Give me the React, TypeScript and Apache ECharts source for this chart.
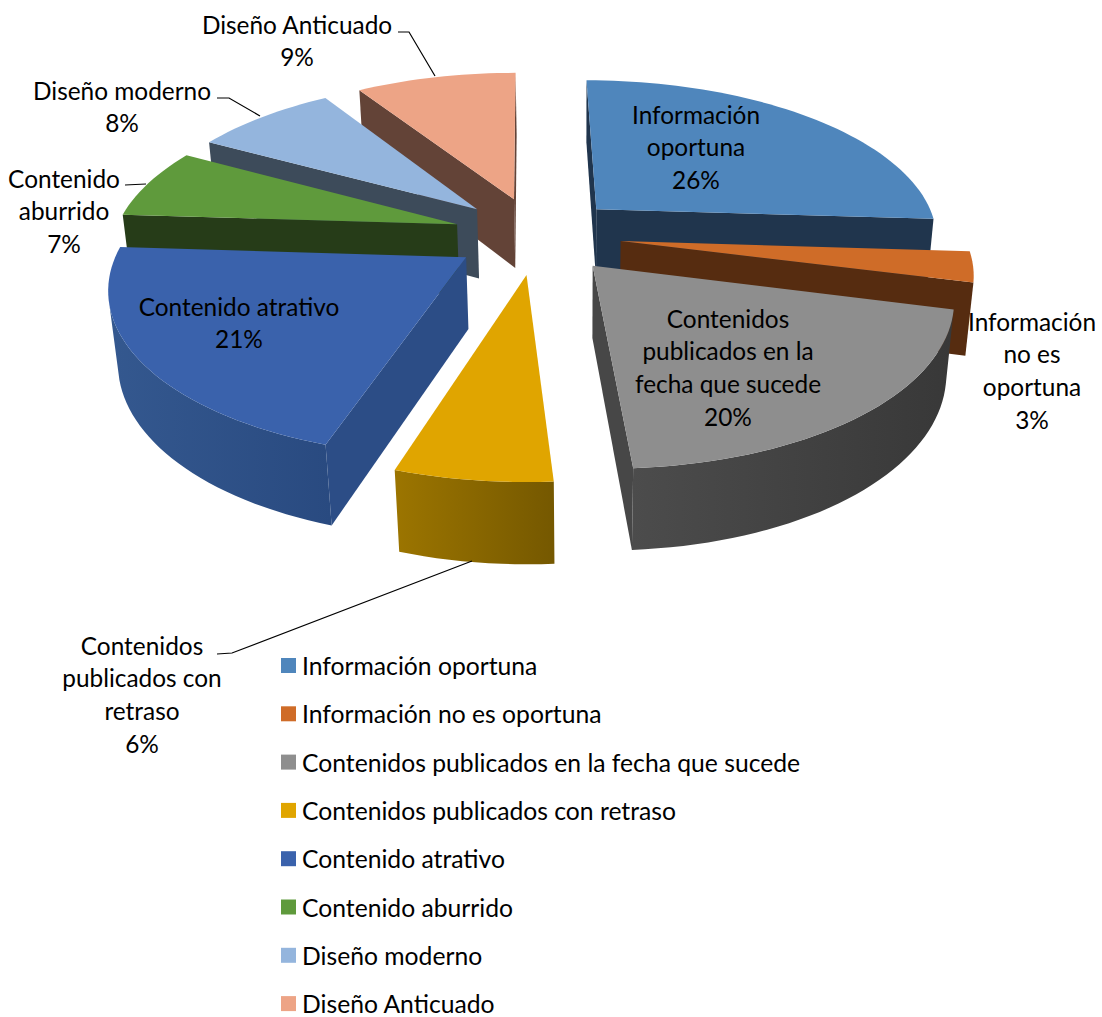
import React, { useEffect, useRef } from "react";
import * as echarts from "echarts";

// ---- data ----
const categories = [
  "Información oportuna",
  "Información no es oportuna",
  "Contenidos publicados en la fecha que sucede",
  "Contenidos publicados con retraso",
  "Contenido atrativo",
  "Contenido aburrido",
  "Diseño moderno",
  "Diseño Anticuado",
];
const percents = [26, 3, 20, 6, 21, 7, 8, 9];
const labelLines = [
  ["Información", "oportuna"],
  ["Información", "no es", "oportuna"],
  ["Contenidos", "publicados en la", "fecha que sucede"],
  ["Contenidos", "publicados con", "retraso"],
  ["Contenido atrativo"],
  ["Contenido", "aburrido"],
  ["Diseño moderno"],
  ["Diseño Anticuado"],
];

// ---- styles ----
const topColors = ["#4F86BC", "#CF6C28", "#8E8E8E", "#E0A500", "#3A62AC", "#5F9A3C", "#94B5DD", "#EDA486"];
const legendColors = topColors;
const radialWallColors = ["#20354D", "#562C10", "#474747", "#2C4D86", "#2C4D86", "#263C18", "#3D4B5A", "#634337"];
const outerWallStops = [
  ["#2C4A6E", "#20354D"],
  ["#5E3012", "#562C10"],
  ["#4C4C4C", "#383838"],
  ["#9C7500", "#755800"],
  ["#34588F", "#294A80"],
  ["#2A4419", "#263C18"],
  ["#455566", "#3D4B5A"],
  ["#6E4A3D", "#634337"],
];
const paintOrder = [7, 6, 5, 0, 1, 4, 2, 3];
const labelAnchors: [number, number][] = [
  [696, 114], [1032, 321], [728, 318], [142, 645], [239, 306], [64, 178], [122, 90], [297, 24],
];
const leaderLines: [number, number][][] = [
  [[398, 32], [409, 32], [435, 76]],
  [[217, 98], [229, 98], [260, 116]],
  [[125, 185], [146, 184]],
  [[217, 654], [232, 653], [472, 561]],
];

// ---- projection of the 3D pie ----
const CX = 537, CY = 235, SX = 343, SY = 158, K = 0.165, DEPTH = 72, DEPTH_K = 0.02, EXPLODE = 0.245, SHEAR = 0.012;
const FONT = "Lato";
const total = percents.reduce((a, b) => a + b, 0);
const project = (x: number, y: number, z: number): number[] => {
  const d = 1 - K * y + DEPTH_K * z;
  const sy = (SY * y + DEPTH * z) / d;
  return [CX + (SX * x) / d + SHEAR * sy, CY + sy];
};

function sliceGeometry(i: number) {
  const before = percents.slice(0, i).reduce((a, b) => a + b, 0);
  const a0 = (before / total) * Math.PI * 2;
  const a1 = ((before + percents[i]) / total) * Math.PI * 2;
  const mid = (a0 + a1) / 2;
  const ox = EXPLODE * Math.sin(mid);
  const oy = -EXPLODE * Math.cos(mid);
  const steps = Math.max(6, Math.round(percents[i] * 2));
  const rim: number[][] = [];
  for (let s = 0; s <= steps; s++) {
    const a = a0 + ((a1 - a0) * s) / steps;
    rim.push([ox + Math.sin(a), oy - Math.cos(a)]);
  }
  return { ox, oy, rim };
}

const signedArea = (p: number[][]) => {
  let s = 0;
  for (let i = 0; i < p.length; i++) {
    const q = p[(i + 1) % p.length];
    s += p[i][0] * q[1] - q[0] * p[i][1];
  }
  return s / 2;
};

function renderSlice(i: number) {
  const { ox, oy, rim } = sliceGeometry(i);
  const children: any[] = [];
  const poly = (points: number[][], fill: any) => ({
    type: "polygon",
    shape: { points },
    style: { fill, stroke: "none" },
  });
  const first = rim[0];
  const last = rim[rim.length - 1];
  const wallA = [project(ox, oy, 0), project(first[0], first[1], 0), project(first[0], first[1], 1), project(ox, oy, 1)];
  const wallB = [project(last[0], last[1], 0), project(ox, oy, 0), project(ox, oy, 1), project(last[0], last[1], 1)];
  if (signedArea(wallA) < 0) children.push(poly(wallA, radialWallColors[i]));
  if (signedArea(wallB) < 0) children.push(poly(wallB, radialWallColors[i]));
  // outer wall: the part of the rim that faces the viewer
  const visible = rim.filter((p, k) => {
    const n = rim[Math.min(k + 1, rim.length - 1)];
    const m = rim[Math.max(k - 1, 0)];
    const q = [project(m[0], m[1], 0), project(n[0], n[1], 0), project(n[0], n[1], 1), project(m[0], m[1], 1)];
    return signedArea(q) < 0;
  });
  if (visible.length > 1) {
    const pts = visible.map((p) => project(p[0], p[1], 0));
    const bottom = visible.map((p) => project(p[0], p[1], 1)).reverse();
    children.push(
      poly(
        pts.concat(bottom),
        new echarts.graphic.LinearGradient(0, 0, 1, 0, [
          { offset: 0, color: outerWallStops[i][0] },
          { offset: 1, color: outerWallStops[i][1] },
        ])
      )
    );
  }
  const top = [project(ox, oy, 0)].concat(rim.map((p) => project(p[0], p[1], 0)));
  children.push(poly(top, topColors[i]));
  return { type: "group", children };
}

export default function App() {
  const ref = useRef<HTMLDivElement>(null);
  useEffect(() => {
    document.body.style.margin = "0";
    const chart = echarts.init(ref.current!, undefined, { renderer: "svg" });
    const texts: any[] = categories.flatMap((_, i) =>
      [...labelLines[i], `${percents[i]}%`].map((line, j) => ({
        type: "text",
        z: 100,
        x: labelAnchors[i][0],
        y: labelAnchors[i][1] + j * 32.8,
        style: {
          text: line,
          fill: "#000000",
          font: `24.4px ${FONT}`,
          align: "center",
          verticalAlign: "middle",
        },
      }))
    );
    const leaders: any[] = leaderLines.map((points) => ({
      type: "polyline",
      z: 100,
      shape: { points },
      style: { stroke: "#000000", lineWidth: 1.2, fill: "none" },
    }));
    chart.setOption({
      animation: false,
      backgroundColor: "#ffffff",
      legend: {
        orient: "vertical",
        left: 281,
        top: 653,
        padding: 0,
        icon: "rect",
        itemWidth: 15,
        itemHeight: 15,
        itemGap: 23.3,
        selectedMode: false,
        data: categories,
        textStyle: { fontFamily: FONT, fontSize: 24.7, lineHeight: 24, color: "#000000", padding: [0, 0, 0, 1] },
      },
      graphic: { z: 100, elements: [...leaders, ...texts] },
      series: categories.map((name, i) => ({
        type: "custom",
        name,
        coordinateSystem: "none",
        silent: true,
        z: 2 + paintOrder.indexOf(i),
        itemStyle: { color: legendColors[i] },
        data: [percents[i]],
        renderItem: () => renderSlice(i),
      })),
    });
    return () => chart.dispose();
  }, []);
  return <div ref={ref} style={{ width: 1102, height: 1017 }} />;
}
